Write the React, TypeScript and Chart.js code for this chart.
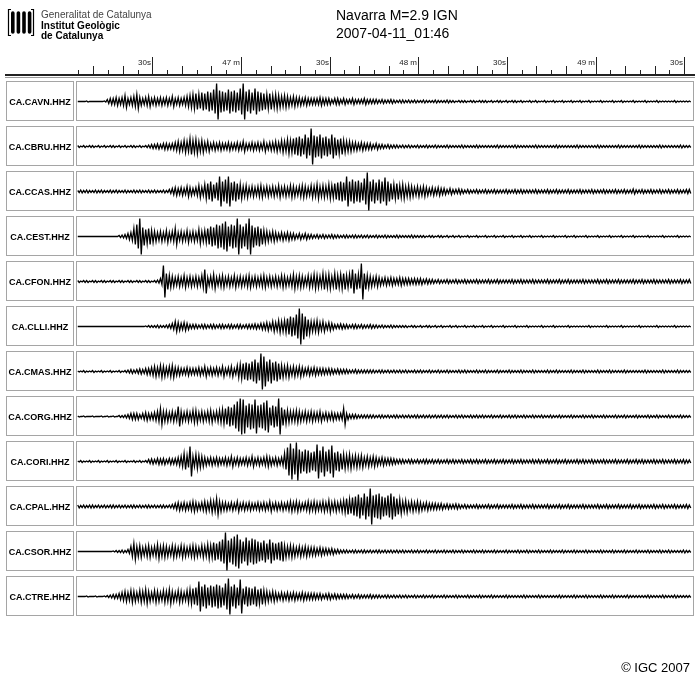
import React, { useEffect, useRef } from "react";
import { Chart, registerables } from "chart.js";

Chart.register(...registerables);

// ---- data -------------------------------------------------------------
const stations = [
  "CA.CAVN.HHZ", "CA.CBRU.HHZ", "CA.CCAS.HHZ", "CA.CEST.HHZ",
  "CA.CFON.HHZ", "CA.CLLI.HHZ", "CA.CMAS.HHZ", "CA.CORG.HHZ",
  "CA.CORI.HHZ", "CA.CPAL.HHZ", "CA.CSOR.HHZ", "CA.CTRE.HHZ",
];
const titleLines = ["Navarra M=2.9 IGN", "2007-04-11_01:46"];
// seconds relative to 01:46:30 of the first envelope sample (1 s per sample)
const firstSampleSec = -25;
const majorTickSecs = [0, 30, 60, 90, 120, 150, 180];
const majorTickLabels = ["30s", "47 m", "30s", "48 m", "30s", "49 m", "30s"];

// half-amplitude envelopes (1 s bins)
const CAVN = [
  0,0,0,0.5,0,0,0,0,0,0.5, 2,3,3,4,3,4,6,3,4,5, 7,4,3,4,5,3,4,3,4,3, 4,3,5,3,4,3,4,5,6,7,
  8,7,9,8,10,9,12,18,11,10, 9,12,10,11,9,13,18,10,12,9, 13,10,9,8,7,8,6,7,6,5, 6,5,4,5,4,4,3,4,3,3,
  3,3,4,3,3,3,2,3,3,2, 3,2,2,3,2,2,2,3,2,2, 2,2,1.5,2,1.5,1.5,2,1.5,1,1.5, 1.5,1,1.5,1,1.5,1,1,1.5,1,1,
  1,1.5,1,1,1,1.5,1,1,0.5,1, 1,1,0.5,1,1,0.5,1,1,1,0.5, 1,0.5,1,1,0.5,1,0.5,1,1,0.5, 1,0.5,0.5,1,0.5,1,0.5,0.5,1,0.5,
  0.5,1,0.5,0.5,1,0.5,0.5,1,0.5,0.5, 1,0.5,0.5,1,0.5,0.5,0.5,1,0.5,0.5, 0.5,1,0.5,0.5,1,0.5,0.5,0.5,1,0.5, 0.5,0.5,1,0.5,0.5,0.5,1,0.5,0.5,0.5,
  0.5,0.5,1,0.5,0.5,0.5,0.5,0.5,
];
const CBRU = [
  1,0.5,1,0.5,1,1,0.5,1,0.5,1, 0.5,1,1,0.5,1,0.5,1,0.5,1,1, 0.5,1,0.5,1,1.5,2,2,2.5,2,3, 3,2.5,3,4,5,4,6,5,8,6,
  7,5,6,4,5,3,4,3,4,3, 3,4,3,3,4,3,5,3,3,4, 3,4,3,5,3,4,4,5,4,6, 5,7,6,8,9,10,8,12,9,18,
  11,10,12,9,10,8,12,9,7,8, 6,5,5,4,4,3,4,3,3,3, 2,3,2,2,1.5,2,1.5,1.5,1.5,1, 1.5,1,1.5,1,1,1.5,1,1,1.5,1,
  1,1.5,1,1,1,1.5,1,1,1,1, 1.5,1,1,1,1,1.5,1,1,1,1, 1,1,1.5,1,1,1,1,1,1.5,1, 1,1,1,1,1,1.5,1,1,1,1,
  1,1,1.5,1,1,1,1,1,1,1.5, 1,1,1,1,1,1,1.5,1,1,1, 1,1,1,1.5,1,1,1,1,1,1, 1.5,1,1,1,1,1,1,1.5,1,1,
  1,1,1,1,1.5,1,1,1,
];
const CCAS = [
  1,1.5,1,1.5,1,1,1.5,1,1.5,1, 1,1.5,1,1.5,1,1,1.5,1,1,1.5, 1,1.5,1,1,1.5,1,1.5,1,1,1.5, 1,2,3,4,3,4,3,5,4,3,
  4,6,4,7,8,10,7,9,15,10, 12,15,9,10,8,7,5,6,4,5, 4,5,6,4,5,4,5,4,6,4, 5,4,6,5,4,5,6,5,4,6,
  5,7,5,6,5,7,6,8,9,10, 9,15,10,12,10,11,9,13,19,10, 12,9,12,10,14,10,8,7,8,6, 7,5,6,5,4,5,4,5,4,3,
  4,3,4,3,3,2,3,2,2,2.5, 2,1.5,2,1.5,1.5,2,1.5,1.5,2,1.5, 1.5,2,1.5,1.5,1.5,2,1.5,1.5,2,1.5, 2,1.5,1.5,1.5,1.5,2,1.5,1.5,1.5,2,
  1.5,1.5,2,1.5,1.5,1.5,2,1.5,1.5,1.5, 2,1.5,1.5,1.5,2,1.5,1.5,1.5,2,1.5, 1.5,1.5,2,1.5,1.5,2,1.5,1.5,2.5,1.5, 1.5,2,1.5,1.5,2,1.5,1.5,2,1.5,1.5,
  2,1.5,1.5,2,1.5,1.5,2,2,
];
const CEST = [
  0,0,0,0,0,0,0,0,0,0, 0,0,0,0,1,1.5,2,3,4,8, 12,18,9,7,8,6,5,4,5,4, 6,4,5,8,4,5,4,6,4,5,
  4,7,5,6,8,10,9,12,11,13, 15,10,12,11,18,12,10,13,18,11, 9,10,8,6,5,4,5,4,3,4, 3,4,3,3,2,3,2,3,2,2,
  1.5,2,1.5,2,1.5,1.5,2,1.5,1.5,1, 1.5,1.5,1,1.5,1.5,1,1.5,1,1.5,1, 1,1.5,1,1,1.5,1,1,1,1.5,1, 1,1,1,1.5,1,1,1,1,0.5,1,
  1,0.5,1,1,0.5,1,0.5,1,0.5,1, 0.5,0.5,1,0.5,0.5,1,0.5,0.5,1,0.5, 0.5,1,0.5,0.5,1,0.5,0.5,1,0.5,0.5, 1,0.5,0.5,1,0.5,0.5,0.5,1,0.5,0.5,
  0.5,1,0.5,0.5,0.5,1,0.5,0.5,1,0.5, 0.5,0.5,1,0.5,0.5,0.5,1,0.5,0.5,0.5, 1,0.5,0.5,0.5,1,0.5,0.5,0.5,1,0.5, 0.5,0.5,0.5,1,0.5,0.5,0.5,0.5,1,0.5,
  0.5,0.5,0.5,1,0.5,0.5,0.5,0.5,
];
const CFON = [
  1,0.5,1,1,0.5,1,1,0.5,1,1, 0.5,1,1,0.5,1,1,0.5,1,1,0.5, 1,1,0.5,1,1,0.5,1,1.5,3,16, 8,6,5,4,5,4,6,4,5,4,
  5,4,6,12,4,5,7,4,5,6, 4,5,4,6,4,5,4,5,6,4, 5,4,5,6,4,5,4,5,4,6, 5,4,5,7,5,6,5,4,6,5,
  7,6,5,8,6,7,5,8,6,7, 8,6,7,12,8,7,18,8,6,5, 4,5,4,3,4,3,4,3,3,4, 3,3,3,2.5,3,2.5,3,2,2.5,2,
  2,1.5,2,1.5,1.5,2,1.5,1.5,2,1.5, 1.5,2,1.5,1.5,1.5,2,1.5,1.5,1.5,2, 1.5,1.5,2,1.5,1.5,1.5,1.5,2,1.5,1.5, 2,1.5,1.5,1.5,2,1.5,1.5,1.5,1.5,2,
  1.5,1.5,1.5,2,1.5,1.5,2,1.5,1.5,1.5, 1.5,2,1.5,1.5,1.5,1.5,2,1.5,1.5,2, 1.5,1.5,1.5,2,1.5,1.5,1.5,1.5,2,1.5, 1.5,2,1.5,1.5,1.5,2,1.5,1.5,1.5,1.5,
  2,1.5,1.5,1.5,2,1.5,1.5,2,
];
const CLLI = [
  0,0,0,0,0,0,0,0,0,0, 0,0,0,0,0,0,0,0,0,0, 0,0,0,0.5,1,1,1,1.5,1,1, 1.5,2,3,5,4,3,4,3,2,2,
  2,1.5,2,2,1.5,2,2,1.5,2,2, 1.5,2,2,1.5,2,2,1.5,2,2,2, 2.5,2,3,3,4,3,5,4,6,5, 6,8,10,9,12,18,13,10,7,5,
  5,6,4,5,3,4,3,2,2,2.5, 2,2,1.5,2,2,1.5,2,1.5,1.5,2, 1.5,1.5,1,1.5,1,1,1.5,1,1,1, 1,1,0.5,1,1,0.5,1,0.5,1,1,
  0.5,1,0.5,1,0.5,0.5,1,0.5,1,0.5, 0.5,1,0.5,0.5,1,0.5,0.5,1,0.5,0.5, 1,0.5,0.5,0.5,1,0.5,0.5,0.5,1,0.5, 0.5,0.5,1,0.5,0.5,0.5,0.5,1,0.5,0.5,
  0.5,1,0.5,0.5,0.5,0.5,1,0.5,0.5,0.5, 0.5,0.5,0.5,1,0.5,0.5,0.5,0.5,0.5,1, 0.5,0.5,0.5,0.5,1,0.5,0.5,0.5,0.5,0.5, 1,0.5,0.5,0.5,0.5,0.5,1,0.5,0.5,0.5,
  0.5,0.5,1,0.5,0.5,0.5,0.5,0.5,
];
const CMAS = [
  0.5,0.5,1,0.5,0.5,1,0.5,0.5,1,0.5, 0.5,1,0.5,0.5,1,0.5,1,1.5,2,1.5, 2,2.5,2,3,3,4,5,4,6,5, 4,5,6,4,4,3,3,4,3,3,
  3,4,3,5,3,4,3,4,3,5, 3,4,5,3,6,7,8,9,8,10, 12,9,18,15,10,12,9,10,8,6, 5,6,4,5,4,5,4,3,4,3,
  4,3,3,3,2.5,3,2.5,2,2.5,2, 2,2,1.5,1.5,2,1.5,1.5,1.5,1.5,1.5, 1.5,1,1.5,1.5,1,1.5,1,1.5,1,1.5, 1,1.5,1,1,1.5,1,1.5,1,1,1.5,
  1,1,1.5,1,1,1.5,1,1,1,1.5, 1,1.5,1,1,1,1.5,1,1,1.5,1, 1,1,1.5,1,1,1,1.5,1,1,1, 1.5,1,1,1,1.5,1,1,1,1,1.5,
  1,1,1.5,1,1,1,1,1.5,1,1, 1,1.5,1,1,1,1,1.5,1,1,1, 1.5,1,1,1,1,1.5,1,1,1,1, 1,1,1.5,1,1,1,1,1,1.5,1,
  1,1,1,1.5,1,1,1,1,
];
const CORG = [
  0.5,0,0.5,0,0,0.5,0,0,0.5,0, 0.5,0,0.5,0,1,1,1.5,2,3,3, 3,2,3,4,3,3,4,5,8,5, 5,4,5,4,10,5,4,5,4,6,
  6,4,5,4,5,6,4,5,6,7, 8,10,9,12,15,18,17,11,13,12, 17,11,12,14,16,9,11,10,18,9, 7,6,5,5,6,5,4,5,4,5,
  4,4,5,3,4,3,4,3,3,3, 8,3,2,2,2,1.5,1.5,1.5,1.5,1.5, 1.5,1,1.5,1.5,1,1.5,1,1.5,1.5,1, 1.5,1,1.5,1,1.5,1.5,1,1.5,1,1.5,
  1,1.5,1,1.5,1,1.5,1,1,1.5,1, 1.5,1,1,1.5,1,1.5,1,1.5,1,1, 1.5,1,1,1.5,1,1,1.5,1,1.5,1, 1,1.5,1,1,1.5,1,1,1.5,1,1,
  1.5,1,1,1.5,1,1,1,1.5,1,1, 1,1.5,1,1,1.5,1,1,1,1.5,1, 1,1,1.5,1,1,1.5,1,1,1,1.5, 1,1,1,1.5,1,1,1.5,1,1,1,
  1.5,1,1,1,1.5,1,1,1,
];
const CORI = [
  0.5,1,0.5,0.5,1,0.5,0.5,1,0.5,0.5, 1,0.5,0.5,1,0.5,0.5,1,0.5,0.5,1, 0.5,1,0.5,1,2,2.5,2,3,2.5,3, 2,3,2.5,3,4,5,8,6,15,5,
  7,6,5,4,3,4,3,4,3,3, 4,3,5,3,4,3,3,4,3,5, 3,4,3,4,5,4,3,4,3,4, 8,14,18,13,19,12,10,12,11,9,
  10,17,11,15,10,12,16,9,10,8, 7,6,7,5,6,5,6,4,5,4, 5,4,3,4,3,3,3,2.5,2,2, 2,1.5,2,2,1.5,2,1.5,2,2,1.5,
  2,1.5,2,1.5,1.5,2,1.5,2,1.5,1.5, 2,1.5,1.5,2,1.5,2,1.5,1.5,2,1.5, 1.5,2,1.5,1.5,2,1.5,1.5,2,1.5,1.5, 2,1.5,1.5,1.5,2,1.5,2,1.5,1.5,2,
  1.5,1.5,2,1.5,1.5,2,1.5,1.5,1.5,2, 1.5,2,1.5,1.5,2,1.5,1.5,1.5,2,1.5, 1.5,1.5,2,1.5,1.5,1.5,2,1.5,1.5,2, 1.5,2,1.5,1.5,1.5,2,1.5,1.5,2,1.5,
  1.5,1.5,2,1.5,1.5,2,1.5,1.5,
];
const CPAL = [
  1.5,1,1.5,1,1.5,1.5,1,1.5,1,1.5, 1,1.5,1.5,1,1.5,1,1.5,1,1.5,1.5, 1,1.5,1,1.5,1.5,1,1.5,1,1.5,1.5, 1,1.5,2,3,4,3,4,3,4,5,
  4,3,4,5,4,6,5,8,5,4, 4,3,4,3,5,3,4,3,4,3, 3,4,3,4,3,5,3,4,3,4, 3,4,5,4,5,4,3,4,5,4,
  5,4,4,5,4,6,4,5,4,5, 6,8,7,9,10,12,9,13,10,18, 11,12,13,10,9,11,13,10,8,7, 5,6,4,5,4,5,4,3,4,3,
  3,3,2.5,3,2,2.5,2,2,2.5,2, 1.5,2,1.5,1.5,1.5,2,1.5,1.5,1.5,2, 1.5,1.5,2,1.5,1.5,1.5,1.5,2,1.5,1.5, 2,1.5,1.5,1.5,2,1.5,1.5,1.5,1.5,2,
  1.5,1.5,1.5,2,1.5,1.5,2,1.5,1.5,1.5, 1.5,2,1.5,1.5,1.5,1.5,2,1.5,1.5,2, 1.5,1.5,1.5,2,1.5,1.5,1.5,2,1.5,1.5, 2,1.5,1.5,1.5,1.5,2,1.5,1.5,2,1.5,
  1.5,1.5,2,1.5,1.5,1.5,2,1.5,
];
const CSOR = [
  0,0,0,0,0,0,0,0,0,0, 0,0,0.5,1,1,1.5,1,2,5,8, 5,6,4,5,6,4,5,7,5,6, 5,4,6,5,4,6,5,4,5,6,
  5,4,6,5,7,6,9,8,10,12, 19,11,13,15,17,12,10,14,11,13, 12,10,9,11,8,12,9,8,9,10, 6,5,6,5,4,5,4,5,4,4,
  4,3,4,3,3,2.5,3,2,2,1.5, 1.5,1.5,1,1.5,1.5,1,1.5,1.5,1,1.5, 1,1.5,1.5,1,1.5,1,1.5,1,1.5,1, 1.5,1,1,1.5,1,1.5,1,1,1.5,1,
  1,1.5,1,1,1.5,1,1,1.5,1,1, 1.5,1,1,1,1.5,1,1,1.5,1,1, 1,1.5,1,1,1,1.5,1,1,1,1.5, 1,1,1.5,1,1,1,1.5,1,1,1,
  1.5,1,1,1,1.5,1,1,1,1.5,1, 1,1,1.5,1,1,1,1,1.5,1,1, 1,1.5,1,1,1,1.5,1,1,1,1.5, 1,1,1,1.5,1,1,1,1.5,1,1,
  1.5,1,1,1,1,1.5,1,1,
];
const CTRE = [
  0,0,0,0.5,0,0,0.5,0,0,0.5, 1,1.5,2,2,3,4,5,4,6,5, 4,6,5,7,5,4,6,5,4,6, 5,7,5,4,6,5,4,6,7,8,
  9,15,10,12,9,11,10,12,11,9, 13,18,10,12,9,17,8,10,9,8, 10,7,8,6,5,4,5,4,3,4, 3,4,3,4,3,3,4,3,3,3,
  3,2.5,3,2,2.5,3,2,2.5,2,2, 2,2,1.5,2,1.5,2,1.5,1.5,1.5,2, 1.5,1.5,1.5,1,1.5,1.5,1,1.5,1,1.5, 1,1.5,1,1,1.5,1,1,1.5,1,1,
  1.5,1,1,1,1.5,1,1,1,1.5,1, 1,1,1.5,1,1,1,1.5,1,1,1, 1.5,1,1,1,1,1.5,1,1,1,1, 1,1.5,1,1,1,1,1.5,1,1,1,
  1,1,1,1.5,1,1,1,1,1.5,1, 1,1,1.5,1,1,1,1,1.5,1,1, 1,1.5,1,1,1,1,1.5,1,1,1, 1,1,1,1.5,1,1,1,1,1.5,1,
  1,1,1.5,1,1,1,1,1,
];
const traces = [CAVN, CBRU, CCAS, CEST, CFON, CLLI, CMAS, CORG, CORI, CPAL, CSOR, CTRE];

// ---- layout ------------------------------------------------------------
const FONT = "'Liberation Sans', Arial, Helvetica, sans-serif";
const AREA_TOP = 80;
const AREA_BOTTOM = 620;
const ROW_PITCH = 45;
const ROW_TOP0 = 82; // px
const ROW_H = 39;
const X_MIN = -25.5;
const X_MAX = 183;
const rowCenter = (r: number) => ROW_TOP0 + ROW_H / 2 + r * ROW_PITCH - AREA_TOP;

const decorPlugin = {
  id: "decor",
  beforeDraw(chart: any) {
    const ctx = chart.ctx as CanvasRenderingContext2D;
    const xs = chart.scales.x;
    ctx.save();
    ctx.fillStyle = "#fff";
    ctx.fillRect(0, 0, chart.width, chart.height);

    // logo emblem
    ctx.fillStyle = "#000";
    ctx.strokeStyle = "#000";
    ctx.lineWidth = 1.2;
    ctx.beginPath();
    ctx.moveTo(11, 9.5); ctx.lineTo(8.5, 9.5); ctx.lineTo(8.5, 35.5); ctx.lineTo(11, 35.5);
    ctx.moveTo(31, 9.5); ctx.lineTo(33.5, 9.5); ctx.lineTo(33.5, 35.5); ctx.lineTo(31, 35.5);
    ctx.stroke();
    for (let k = 0; k < 4; k++) {
      const bx = 11 + k * 5.6;
      ctx.beginPath();
      ctx.moveTo(bx, 13);
      ctx.arc(bx + 1.8, 13, 1.8, Math.PI, 0);
      ctx.lineTo(bx + 3.6, 32);
      ctx.arc(bx + 1.8, 32, 1.8, 0, Math.PI);
      ctx.closePath();
      ctx.fill();
    }
    ctx.textAlign = "left";
    ctx.textBaseline = "alphabetic";
    ctx.fillStyle = "#444";
    ctx.font = `10px ${FONT}`;
    ctx.fillText("Generalitat de Catalunya", 41, 18);
    ctx.fillStyle = "#000";
    ctx.font = `bold 10px ${FONT}`;
    ctx.fillText("Institut Geològic", 41, 29);
    ctx.fillText("de Catalunya", 41, 39);

    // title
    ctx.font = `14px ${FONT}`;
    ctx.fillText(titleLines[0], 336, 20);
    ctx.fillText(titleLines[1], 336, 38);

    // time axis
    ctx.fillStyle = "#222";
    ctx.fillRect(5, 74, 690, 2);
    ctx.fillStyle = "#9a9a9a";
    ctx.fillRect(5, 77, 690, 1);
    ctx.fillStyle = "#222";
    for (let s = -25; s <= 180; s += 5) {
      const px = Math.round(xs.getPixelForValue(s));
      const mod30 = ((s % 30) + 30) % 30;
      const mod10 = ((s % 10) + 10) % 10;
      const h = mod30 === 0 ? 17 : mod10 === 0 ? 8 : 4;
      ctx.fillRect(px, 74 - h, 1, h);
    }
    ctx.font = `8px ${FONT}`;
    ctx.textAlign = "right";
    majorTickSecs.forEach((s, k) => {
      const px = Math.round(xs.getPixelForValue(s));
      ctx.fillText(majorTickLabels[k], px - 1, 65);
    });

    // station boxes
    ctx.strokeStyle = "#a5a5a5";
    ctx.lineWidth = 1;
    ctx.textAlign = "center";
    ctx.font = `bold 9px ${FONT}`;
    ctx.fillStyle = "#000";
    stations.forEach((name, r) => {
      const top = ROW_TOP0 + r * ROW_PITCH;
      ctx.strokeRect(6.5, top - 0.5, 67, ROW_H);
      ctx.strokeRect(76.5, top - 0.5, 617, ROW_H);
      ctx.fillText(name, 40, top + ROW_H / 2 + 3);
    });
    ctx.restore();
  },
  afterDraw(chart: any) {
    const ctx = chart.ctx as CanvasRenderingContext2D;
    ctx.save();
    ctx.fillStyle = "#000";
    ctx.font = `13px ${FONT}`;
    ctx.textAlign = "right";
    ctx.textBaseline = "alphabetic";
    ctx.fillText("\u00A9 IGC 2007", 690, 672);
    ctx.restore();
  },
};

export default function App() {
  const ref = useRef<HTMLCanvasElement>(null);
  useEffect(() => {
    document.body.style.margin = "0";
    // each 1 s bin is drawn as its min/max pair, joined into one polyline
    const datasets = traces.map((amp, r) => {
      const c = rowCenter(r);
      const pts: { x: number; y: number }[] = [];
      amp.forEach((a, i) => {
        const t = firstSampleSec + i;
        pts.push({ x: t - 0.25, y: c - a });
        pts.push({ x: t + 0.25, y: c + a });
      });
      return {
        type: "line",
        label: stations[r],
        data: pts,
        borderColor: "#000",
        borderWidth: 1.3,
        pointRadius: 0,
        tension: 0,
      };
    });
    const chart = new Chart(ref.current as HTMLCanvasElement, {
      type: "line",
      data: { datasets },
      options: {
        responsive: false,
        animation: false,
        devicePixelRatio: 1,
        events: [],
        layout: { padding: { left: 77, right: 7, top: AREA_TOP, bottom: 683 - AREA_BOTTOM } },
        plugins: { legend: { display: false }, tooltip: { enabled: false } },
        scales: {
          x: { type: "linear", min: X_MIN, max: X_MAX, display: false },
          y: { type: "linear", min: 0, max: AREA_BOTTOM - AREA_TOP, reverse: true, display: false },
        },
      },
      plugins: [decorPlugin],
    } as any);
    return () => chart.destroy();
  }, []);
  return (
    <canvas
      ref={ref}
      width={700}
      height={683}
      style={{ display: "block", width: 700, height: 683 }}
    />
  );
}
